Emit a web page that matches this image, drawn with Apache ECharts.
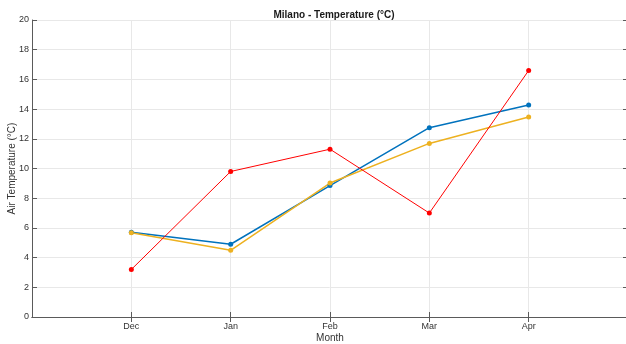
<!DOCTYPE html>
<html><head><meta charset="utf-8">
<script src="https://cdn.jsdelivr.net/npm/echarts@6/dist/echarts.min.js"></script>
<style>html,body{margin:0;padding:0;background:#fff}#c{width:626px;height:344px}</style>
</head><body><div id="c"></div>
<script>
var months = ['', 'Dec', 'Jan', 'Feb', 'Mar', 'Apr', ''];
var seriesBlue = [null, 5.7, 4.9, 8.85, 12.75, 14.28, null];
var seriesYellow = [null, 5.68, 4.49, 9.02, 11.69, 13.47, null];
var seriesRed = [null, 3.2, 9.8, 11.3, 7.0, 16.6, null];
var yTicks = {min: 0, max: 20, interval: 2};

var axisCol = '#5a5a5a';
var font = 'Liberation Sans, Arial, sans-serif';
var chart = echarts.init(document.getElementById('c'));
function mkSeries(data, color, width) {
  return {type: 'line', data: data, symbol: 'circle', symbolSize: 5,
    lineStyle: {color: color, width: width}, itemStyle: {color: color},
    animation: false, connectNulls: false};
}
chart.setOption({
  animation: false,
  title: {text: 'Milano - Temperature (°C)', left: 329, top: 5, textAlign: 'center',
    textStyle: {fontSize: 10, fontWeight: 'bold', color: '#1a1a1a', fontFamily: font}},
  grid: {left: 32, right: -2, top: 20, bottom: 27, containLabel: false, outerBoundsMode: 'none'},
  xAxis: [{
    type: 'category', data: months, boundaryGap: false, position: 'bottom',
    name: 'Month', nameLocation: 'middle', nameGap: 16, nameMoveOverlap: false,
    nameTextStyle: {fontSize: 10, color: '#333', fontFamily: font},
    axisLine: {lineStyle: {color: axisCol}},
    axisTick: {inside: true, length: 5, lineStyle: {color: axisCol}, interval: function (i) { return months[i] !== ''; }},
    axisLabel: {fontSize: 9, color: '#333', fontFamily: font, margin: 5, interval: 0},
    splitLine: {show: true, lineStyle: {color: '#e8e8e8'}, interval: 0}
  }, {
    type: 'category', data: months, boundaryGap: false, position: 'top',
    axisLine: {lineStyle: {color: axisCol}},
    axisTick: {inside: true, length: 5, lineStyle: {color: axisCol}, interval: function (i) { return months[i] !== ''; }},
    axisLabel: {show: false}, splitLine: {show: false}
  }],
  yAxis: [{
    type: 'value', min: yTicks.min, max: yTicks.max, interval: yTicks.interval, position: 'left',
    name: 'Air Temperature (°C)', nameLocation: 'middle', nameGap: 15, nameMoveOverlap: false,
    nameTextStyle: {fontSize: 10, color: '#333', fontFamily: font},
    axisLine: {show: true, lineStyle: {color: axisCol}},
    axisTick: {show: true, inside: true, length: 5, lineStyle: {color: axisCol}},
    axisLabel: {fontSize: 9, color: '#333', fontFamily: font, margin: 3},
    splitLine: {show: true, lineStyle: {color: '#e8e8e8'}}
  }, {
    type: 'value', min: yTicks.min, max: yTicks.max, interval: yTicks.interval, position: 'right',
    axisLine: {show: true, lineStyle: {color: axisCol}},
    axisTick: {show: true, inside: true, length: 5, lineStyle: {color: axisCol}},
    axisLabel: {show: false}, splitLine: {show: false}
  }],
  series: [
    mkSeries(seriesBlue, '#0072BD', 1.5),
    mkSeries(seriesYellow, '#EDB120', 1.5),
    mkSeries(seriesRed, '#FF0000', 1)
  ]
});
</script></body></html>
